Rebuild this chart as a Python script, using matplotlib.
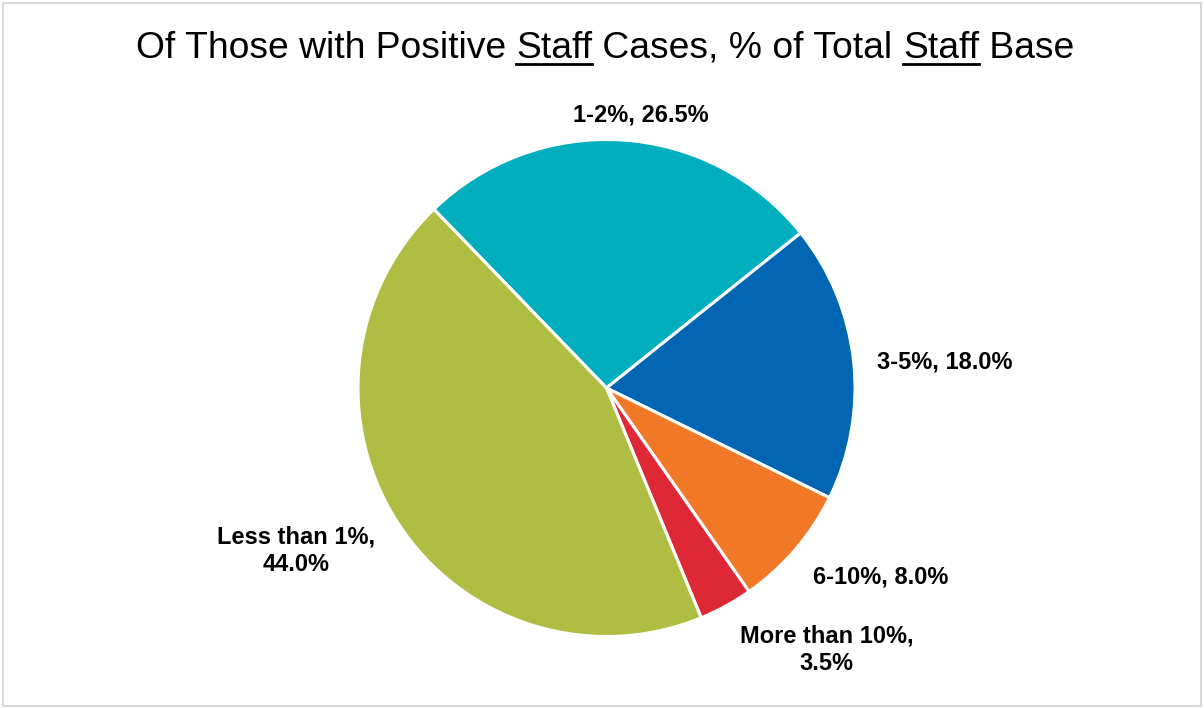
import matplotlib
matplotlib.use("Agg")
import matplotlib.pyplot as plt
from matplotlib.patches import Rectangle
from matplotlib.lines import Line2D

plt.rcParams['font.family'] = ['Liberation Sans', 'DejaVu Sans']

# Share of staff base with positive cases
categories = ['1-2%', '3-5%', '6-10%', 'More than 10%', 'Less than 1%']
shares = [26.5, 18.0, 8.0, 3.5, 44.0]
label_text = ['1-2%, 26.5%', '3-5%, 18.0%', '6-10%, 8.0%',
              'More than 10%,\n3.5%', 'Less than 1%,\n44.0%']
colors = ['#00AEBE', '#0066B3', '#F07826', '#DE2836', '#AFBE43']

# label anchor points (pie radius = 1)
label_xy = [(0.139, 1.099), (1.362, 0.105), (1.105, -0.761),
            (0.887, -1.053), (-1.250, -0.655)]

W, H = 1204, 708
fig = plt.figure(figsize=(W / 100, H / 100), dpi=100)
ax = fig.add_axes([0, 0, 1, 1])

cx, cy, R = 606.5, 388.0, 248.5
wedges, _ = ax.pie(shares, colors=colors, startangle=134, counterclock=False,
                   wedgeprops=dict(edgecolor='white', linewidth=2.2))
ax.set_xlim(-cx / R, (W - cx) / R)
ax.set_ylim(-(H - cy) / R, cy / R)
ax.set_aspect('auto')
ax.axis('off')

for txt, (x, y) in zip(label_text, label_xy):
    ax.text(x, y, txt, ha='center', va='center', fontsize=17,
            fontweight='bold', color='black', linespacing=1.22)

# title built piecewise so "Staff" can be underlined
pieces = [('Of Those with Positive ', False), ('Staff', True),
          (' Cases, % of Total ', False), ('Staff', True), (' Base', False)]
title_size = 26.8
renderer = fig.canvas.get_renderer()


def text_width(s):
    # width including leading/trailing spaces
    a = fig.text(0, 0, '|' + s + '|', fontsize=title_size)
    b = fig.text(0, 0, '||', fontsize=title_size)
    w = a.get_window_extent(renderer).width - b.get_window_extent(renderer).width
    a.remove()
    b.remove()
    return w


total_w = text_width(''.join(p for p, _ in pieces))
x0 = 605 - total_w / 2
y_base = H - 58
for s, under in pieces:
    fig.text(x0 / W, y_base / H, s, fontsize=title_size, va='baseline')
    w = text_width(s)
    if under:
        fig.add_artist(Line2D([x0 / W, (x0 + w) / W], [(y_base - 5.5) / H] * 2,
                              color='black', lw=2.0, transform=fig.transFigure))
    x0 += w

fig.add_artist(Rectangle((3 / W, 2 / H), (W - 6) / W, (H - 5) / H,
                         transform=fig.transFigure, fill=False,
                         edgecolor='#D9D9D9', lw=1.5))

fig.savefig('out.png', dpi=100)
